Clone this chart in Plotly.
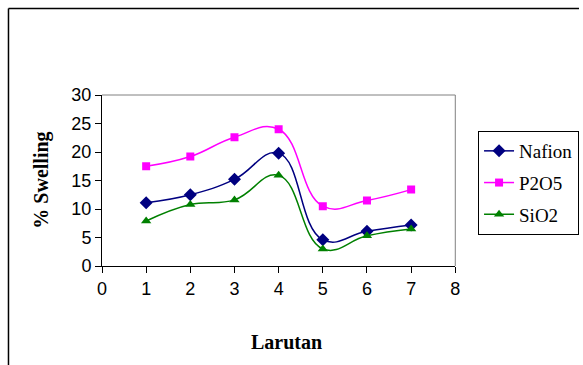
import plotly.graph_objects as go

larutan = [1, 2, 3, 4, 5, 6, 7]
nafion = [11.1, 12.5, 15.2, 19.8, 4.6, 6.1, 7.2]
p2o5 = [17.5, 19.2, 22.6, 24.0, 10.5, 11.5, 13.4]
sio2 = [7.9, 10.8, 11.6, 15.9, 3.0, 5.3, 6.5]

L, R, T, B = 102, 459, 95, 266
W, H = 583, 365
PW = W - L  # paper width (right margin 0)

SERIF = "Liberation Serif, Times New Roman, serif"
SANS = "Liberation Sans, Arial, sans-serif"

def px(x):
    return (x - L) / PW

def py(y):
    return (B - y) / (B - T)

fig = go.Figure()
series = [
    ("Nafion", nafion, "#000080", "diamond", 10),
    ("P2O5", p2o5, "#FF00FF", "square", 8),
    ("SiO2", sio2, "#008000", "triangle-up", 9),
]
for i, (name, vals, col, sym, sz) in enumerate(series):
    fig.add_trace(go.Scatter(
        x=larutan, y=vals, name=name, mode="lines+markers",
        line=dict(color=col, width=1.5, shape="spline", smoothing=1.25),
        marker=dict(color=col, symbol=sym, size=sz),
        legendgroup=name,
    ))

fig.update_layout(
    width=W, height=H,
    margin=dict(l=L, r=0, t=T, b=H - B),
    paper_bgcolor="white", plot_bgcolor="white",
    font=dict(family=SERIF, color="black"),
    showlegend=True,
    legend=dict(
        x=px(482), y=py(131), xanchor="left", yanchor="top",
        bordercolor="black", borderwidth=1,
        font=dict(family=SERIF, size=19, color="black"),
        traceorder="grouped", tracegroupgap=4,
        entrywidth=70, entrywidthmode="pixels",
    ),
    xaxis=dict(
        domain=[0, px(R)],
        range=[0, 8], tickvals=[0, 1, 2, 3, 4, 5, 6, 7, 8],
        showgrid=False, zeroline=False,
        showline=True, linecolor="black", linewidth=1,
        ticks="outside", ticklen=6, tickcolor="black",
        tickfont=dict(family=SANS, size=18, color="black"),
    ),
    yaxis=dict(
        range=[0, 30], tickvals=[0, 5, 10, 15, 20, 25, 30],
        showgrid=False, zeroline=False,
        showline=True, linecolor="black", linewidth=1,
        ticks="outside", ticklen=6, tickcolor="black",
        tickfont=dict(family=SANS, size=18, color="black"),
    ),
    shapes=[
        dict(type="line", xref="paper", yref="paper", x0=0, x1=px(R), y0=1, y1=1,
             line=dict(color="#808080", width=1)),
        dict(type="line", xref="paper", yref="paper", x0=px(R), x1=px(R), y0=0, y1=1,
             line=dict(color="#808080", width=1)),
        dict(type="line", xref="paper", yref="paper", x0=px(7.5), x1=px(584), y0=py(8.5), y1=py(8.5),
             line=dict(color="black", width=1.5)),
        dict(type="line", xref="paper", yref="paper", x0=px(7.5), x1=px(7.5), y0=py(8.5), y1=py(366),
             line=dict(color="black", width=1.5)),
    ],
    annotations=[
        dict(text="<b>Larutan</b>", xref="paper", yref="paper", x=px(288), y=py(342),
             showarrow=False, xanchor="center", yanchor="middle",
             font=dict(family=SERIF, size=20, color="black")),
        dict(text="<b>% Swelling</b>", xref="paper", yref="paper", x=px(40), y=py(180),
             showarrow=False, xanchor="center", yanchor="middle", textangle=-90,
             font=dict(family=SERIF, size=20, color="black")),
    ],
)

fig.write_html("out.html")
